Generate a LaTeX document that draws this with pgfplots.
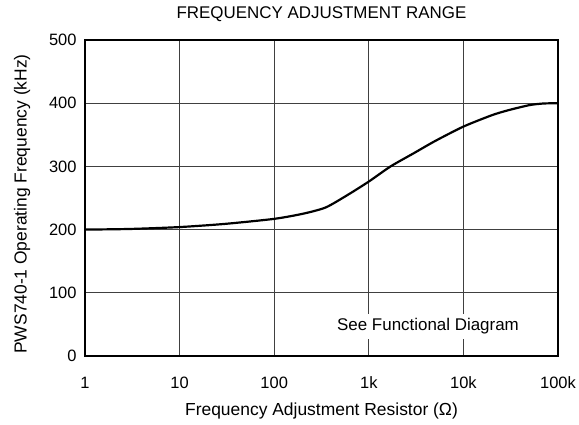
\documentclass[border=0pt]{standalone}
\usepackage{pgfplots}
\pgfplotsset{compat=1.18}
\usepackage{fontspec}
\setmainfont{Liberation Sans}
\begin{document}
\begin{tikzpicture}
\useasboundingbox (-85bp,-69bp) rectangle (494bp,356bp);
\begin{axis}[
  at={(0,0)}, anchor=south west,
  scale only axis,
  width=473bp, height=316bp,
  xmode=log, log basis x=10,
  xmin=1, xmax=100000, ymin=0, ymax=500,
  xtick={1,10,100,1000,10000,100000},
  xticklabels={1,10,100,1k,10k,100k},
  ytick={0,100,200,300,400,500},
  minor xtick={},
  grid=major,
  major grid style={line width=1pt, black!75},
  axis line style={line width=2.2pt},
  major tick length=0pt,
  tick label style={font=\fontsize{16.5}{18}\selectfont},
  /pgf/number format/assume math mode=true,
  xticklabel style={anchor=base, yshift=-32.3bp},
  yticklabel style={anchor=east, xshift=-5bp},
  xlabel={Frequency Adjustment Resistor (\symbol{"03A9})},
  ylabel={PWS740-1 Operating Frequency (kHz)},
  label style={font=\fontsize{17.5}{19}\selectfont},
  xlabel style={at={(axis description cs:0.5,0)}, anchor=base, yshift=-59bp},
  ylabel style={at={(axis description cs:0,0.5)}, anchor=base, yshift=58.3bp, xshift=-6bp},
  title={FREQUENCY ADJUSTMENT RANGE},
  title style={font=\fontsize{17}{19}\selectfont, at={(axis description cs:0.5,1)}, anchor=base, yshift=15.7bp},
  clip=false,
]
\addplot[black, line width=2.2pt, smooth, tension=0.4] coordinates {
 (1,200) (3,201) (10,204) (30,209) (100,217) (200,225) (350,235)
 (600,255) (1000,276) (1700,300) (3000,321) (5000,340) (10000,363)
 (20000,381) (30000,389) (50000,397) (70000,399.5) (100000,400)
};
\node[fill=white, inner xsep=3bp, inner ysep=5bp, font=\fontsize{17}{19}\selectfont] at (axis cs:4227,46.7) {See Functional Diagram};
\end{axis}
\end{tikzpicture}
\end{document}
